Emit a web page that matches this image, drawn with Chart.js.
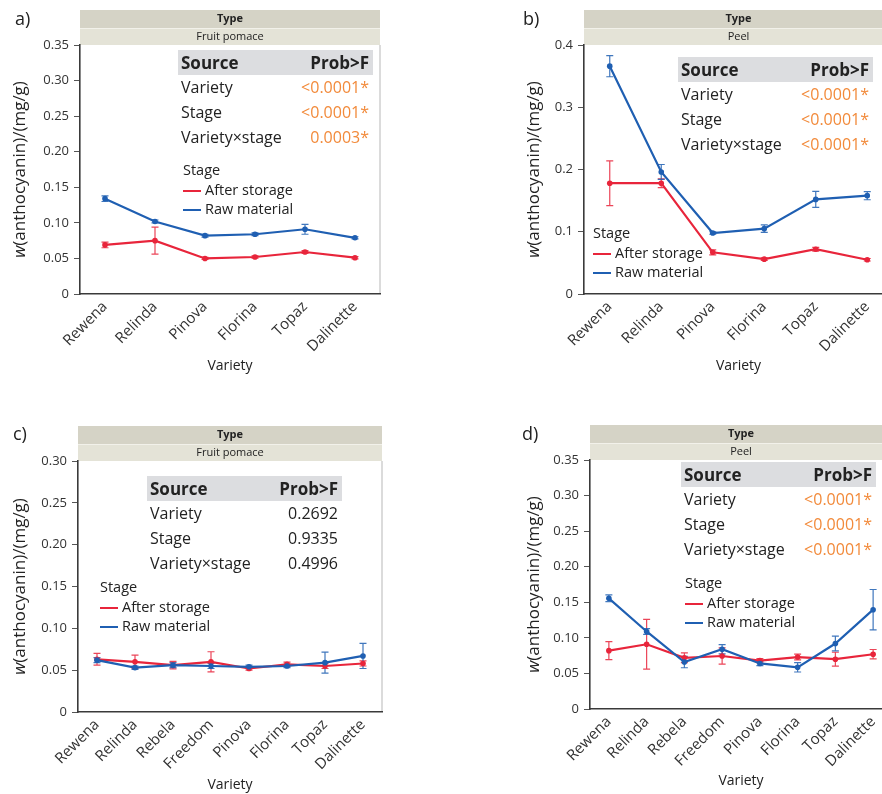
<!DOCTYPE html>
<html>
<head>
<meta charset="utf-8">
<script src="https://cdn.jsdelivr.net/npm/chart.js@4.4.1/dist/chart.umd.min.js"></script>
<style>
html, body { margin: 0; padding: 0; background: #fff; overflow: hidden; width: 882px; height: 794px; }
body { position: relative; font-family: 'Open Sans', sans-serif; color: #222; }
.panel { position: absolute; overflow: visible; }
.panel canvas { position: absolute; left: 0; top: 0; }
.lbl { position: absolute; font-size: 18px; line-height: 18px; color: #222; }
.tbl { position: absolute; font-size: 16px; color: #222; }
.tbl .hd { background: #dcdde0; font-weight: bold; font-size: 17px; height: 25px; line-height: 25px; display: flex; justify-content: space-between; padding: 0 4px 0 3px; }
.tbl .row { height: 25px; line-height: 25px; display: flex; justify-content: space-between; padding: 0 4px 0 3px; }
.sig { color: #f28a3a; }
.leg { position: absolute; font-size: 14.5px; color: #222; }
.leg .ttl { height: 20px; line-height: 20px; }
.leg .it { height: 19px; line-height: 19px; white-space: nowrap; }
.leg .it:first-of-type { margin-top: 6px; }
.leg .sw { display: inline-block; width: 18px; height: 2.5px; vertical-align: middle; margin-right: 4px; }
</style>
</head>
<body>
<script>
// categories
const varieties6 = ['Rewena', 'Relinda', 'Pinova', 'Florina', 'Topaz', 'Dalinette']
const varieties8 = ['Rewena', 'Relinda', 'Rebela', 'Freedom', 'Pinova', 'Florina', 'Topaz', 'Dalinette']

// a) fruit pomace
const aAfter    = [0.069, 0.075, 0.050, 0.052, 0.059, 0.051]
const aAfterErr = [0.004, 0.019, 0.0015, 0.0015, 0.002, 0.0015]
const aRaw      = [0.134, 0.102, 0.082, 0.084, 0.091, 0.079]
const aRawErr   = [0.004, 0.002, 0.002, 0.002, 0.007, 0.0015]

// b) peel
const bAfter    = [0.178, 0.178, 0.067, 0.056, 0.072, 0.055]
const bAfterErr = [0.036, 0.007, 0.004, 0.002, 0.003, 0.002]
const bRaw      = [0.366, 0.196, 0.098, 0.105, 0.152, 0.158]
const bRawErr   = [0.017, 0.012, 0.002, 0.006, 0.013, 0.0066]

// c) fruit pomace
const cAfter    = [0.063, 0.060, 0.056, 0.060, 0.052, 0.057, 0.055, 0.058]
const cAfterErr = [0.007, 0.008, 0.0045, 0.012, 0.002, 0.0025, 0.003, 0.003]
const cRaw      = [0.062, 0.053, 0.056, 0.055, 0.054, 0.055, 0.059, 0.067]
const cRawErr   = [0.003, 0.002, 0.003, 0.003, 0.002, 0.002, 0.0125, 0.015]

// d) peel
const dAfter    = [0.082, 0.091, 0.072, 0.0745, 0.068, 0.073, 0.070, 0.077]
const dAfterErr = [0.0127, 0.035, 0.0068, 0.0115, 0.003, 0.004, 0.0098, 0.0066]
const dRaw      = [0.1556, 0.109, 0.066, 0.084, 0.064, 0.0586, 0.092, 0.1396]
const dRawErr   = [0.0047, 0.004, 0.008, 0.0066, 0.003, 0.0066, 0.0103, 0.0284]

// anova tables
const sources = ['Variety', 'Stage', 'Variety×stage']
const aProbs = ['<0.0001*', '<0.0001*', '0.0003*']
const bProbs = ['<0.0001*', '<0.0001*', '<0.0001*']
const cProbs = ['0.2692', '0.9335', '0.4996']
const dProbs = ['<0.0001*', '<0.0001*', '<0.0001*']

const RED = '#e8253b'
const BLUE = '#1f5fb2'
const FONT = "'Open Sans', sans-serif"

const panels = [
    { name: 'a)', left: 0, top: 0, w: 441, h: 400, area: { l: 80, t: 45, r: 380, b: 294 }, titleY: 366, ytX: 20,
      cats: varieties6, after: aAfter, afterErr: aAfterErr, raw: aRaw, rawErr: aRawErr,
      yMax: 0.35, yStep: 0.05, dec: 2, type: 'Fruit pomace', probs: aProbs,
      tbl: { x: 178, y: 50, w: 195 }, leg: { x: 183, y: 170 }, lbl: { x: 15, y: 9 } },
    { name: 'b)', left: 441, top: 0, w: 470, h: 400, area: { l: 143, t: 45, r: 452, b: 294 }, titleY: 366, ytX: 93,
      cats: varieties6, after: bAfter, afterErr: bAfterErr, raw: bRaw, rawErr: bRawErr,
      yMax: 0.4, yStep: 0.1, dec: 1, type: 'Peel', probs: bProbs,
      tbl: { x: 237, y: 57, w: 195 }, leg: { x: 152, y: 233 }, lbl: { x: 82, y: 9 } },
    { name: 'c)', left: 0, top: 410, w: 441, h: 384, area: { l: 78, t: 51, r: 382, b: 302 }, titleY: 375, ytX: 20,
      cats: varieties8, after: cAfter, afterErr: cAfterErr, raw: cRaw, rawErr: cRawErr,
      yMax: 0.30, yStep: 0.05, dec: 2, type: 'Fruit pomace', probs: cProbs,
      tbl: { x: 147, y: 66, w: 195 }, leg: { x: 100, y: 177 }, lbl: { x: 13, y: 14 } },
    { name: 'd)', left: 441, top: 410, w: 470, h: 384, area: { l: 149, t: 50, r: 451, b: 299 }, titleY: 371, ytX: 93,
      cats: varieties8, after: dAfter, afterErr: dAfterErr, raw: dRaw, rawErr: dRawErr,
      yMax: 0.35, yStep: 0.05, dec: 2, type: 'Peel', probs: dProbs,
      tbl: { x: 240, y: 52, w: 195 }, leg: { x: 244, y: 173 }, lbl: { x: 81, y: 14 } }
]


// header bands, right frame, y title and error bars
const panelDecor = {
    id: 'panelDecor',
    beforeDraw(chart, args, o) {
        const { ctx, chartArea: a } = chart
        const cx = (a.left + a.right) / 2
        ctx.save()
        ctx.fillStyle = '#d5d3c6'
        ctx.fillRect(a.left, a.top - 35, a.right - a.left, 18)
        ctx.fillStyle = '#e4e3d7'
        ctx.fillRect(a.left, a.top - 17, a.right - a.left, 17)
        ctx.fillStyle = '#f2f1ea'
        ctx.fillRect(a.left, a.top - 17, a.right - a.left, 1)
        ctx.fillStyle = '#222'
        ctx.textAlign = 'center'
        ctx.textBaseline = 'middle'
        ctx.font = 'bold 11px ' + FONT
        ctx.fillText('Type', cx, a.top - 26)
        ctx.font = '11px ' + FONT
        ctx.fillText(o.type, cx, a.top - 8)

        ctx.strokeStyle = '#cfcfcf'
        ctx.lineWidth = 1.5
        ctx.beginPath()
        ctx.moveTo(a.right, a.top)
        ctx.lineTo(a.right, a.bottom)
        ctx.stroke()

        // y title with italic w
        const part1 = 'w', part2 = '(anthocyanin)/(mg/g)'
        ctx.translate(o.ytX, (a.top + a.bottom) / 2)
        ctx.rotate(-Math.PI / 2)
        ctx.font = 'italic 17px ' + FONT
        const w1 = ctx.measureText(part1).width
        ctx.font = '17px ' + FONT
        const w2 = ctx.measureText(part2).width
        const x0 = -(w1 + w2) / 2
        ctx.textAlign = 'left'
        ctx.font = 'italic 17px ' + FONT
        ctx.fillText(part1, x0, 0)
        ctx.font = '17px ' + FONT
        ctx.fillText(part2, x0 + w1, 0)
        ctx.restore()
    },
    beforeDatasetsDraw(chart) {
        const { ctx } = chart
        const y = chart.scales.y
        ctx.save()
        chart.data.datasets.forEach((ds, di) => {
            const meta = chart.getDatasetMeta(di)
            ctx.strokeStyle = ds.borderColor
            ctx.globalAlpha = 0.85
            ctx.lineWidth = 1.2
            ds.errors.forEach((e, i) => {
                const x = meta.data[i].x
                const y1 = y.getPixelForValue(ds.data[i] + e)
                const y2 = y.getPixelForValue(ds.data[i] - e)
                ctx.beginPath()
                ctx.moveTo(x, y1); ctx.lineTo(x, y2)
                ctx.moveTo(x - 3.5, y1); ctx.lineTo(x + 3.5, y1)
                ctx.moveTo(x - 3.5, y2); ctx.lineTo(x + 3.5, y2)
                ctx.stroke()
            })
        })
        ctx.restore()
    }
}


function makePanel(p){

    const div = document.createElement('div')
    div.className = 'panel'
    div.style.left = p.left + 'px'
    div.style.top = p.top + 'px'
    div.style.width = p.w + 'px'
    div.style.height = p.h + 'px'
    document.body.appendChild(div)

    const canvas = document.createElement('canvas')
    canvas.width = p.w
    canvas.height = p.h
    div.appendChild(canvas)

    const chart = new Chart(canvas, {
        type: 'line',
        data: {
            labels: p.cats,
            datasets: [
                { label: 'After storage', data: p.after, errors: p.afterErr, borderColor: RED, backgroundColor: RED, order: 1 },
                { label: 'Raw material', data: p.raw, errors: p.rawErr, borderColor: BLUE, backgroundColor: BLUE, order: 0 }
            ]
        },
        options: {
            responsive: false,
            animation: false,
            layout: { padding: { left: 0, top: p.area.t, right: p.w - p.area.r, bottom: 0 } },
            elements: {
                line: { borderWidth: 2.2, tension: 0 },
                point: { radius: 2.8, borderWidth: 0, hoverRadius: 2.8 }
            },
            plugins: {
                legend: { display: false },
                tooltip: { enabled: false },
                panelDecor: { type: p.type, ytX: p.ytX }
            },
            scales: {
                x: {
                    offset: true,
                    grid: { display: false, drawTicks: false },
                    border: { display: true, color: '#3a3a3a', width: 1.6 },
                    ticks: { color: '#333', font: { family: FONT, size: 15 }, maxRotation: 45, minRotation: 45, padding: 4, autoSkip: false },
                    title: { display: true, text: 'Variety', color: '#222', font: { family: FONT, size: 14 },
                             padding: { top: 0, bottom: p.h - p.titleY - 8.4 } },
                    afterFit: s => { s.height = p.h - p.area.b }
                },
                y: {
                    min: 0, max: p.yMax,
                    grid: { drawOnChartArea: false, tickLength: 6, color: '#555' },
                    border: { display: true, color: '#3a3a3a', width: 1.6 },
                    ticks: { stepSize: p.yStep, color: '#333', font: { family: FONT, size: 13 }, padding: 5,
                             callback: v => v === 0 ? '0' : v.toFixed(p.dec) },
                    afterFit: s => { s.width = p.area.l }
                }
            }
        },
        plugins: [panelDecor]
    })

    // panel letter
    const lbl = document.createElement('div')
    lbl.className = 'lbl'
    lbl.style.left = p.lbl.x + 'px'
    lbl.style.top = p.lbl.y + 'px'
    lbl.textContent = p.name
    div.appendChild(lbl)

    // anova table
    const tbl = document.createElement('div')
    tbl.className = 'tbl'
    tbl.style.left = p.tbl.x + 'px'
    tbl.style.top = p.tbl.y + 'px'
    tbl.style.width = p.tbl.w + 'px'
    let html = '<div class="hd"><span>Source</span><span>Prob&gt;F</span></div>'
    sources.forEach((s, i) => {
        const v = p.probs[i]
        const cls = v.endsWith('*') ? 'sig' : ''
        html += `<div class="row"><span>${s}</span><span class="${cls}">${v.replace('<', '&lt;')}</span></div>`
    })
    tbl.innerHTML = html
    div.appendChild(tbl)

    // legend from the chart's datasets
    const leg = document.createElement('div')
    leg.className = 'leg'
    leg.style.left = p.leg.x + 'px'
    leg.style.top = (p.leg.y - 10) + 'px'
    let lh = '<div class="ttl">Stage</div>'
    chart.data.datasets.forEach(ds => {
        lh += `<div class="it"><span class="sw" style="background:${ds.borderColor}"></span>${ds.label}</div>`
    })
    leg.innerHTML = lh
    div.appendChild(leg)
}

panels.forEach(makePanel)
</script>
</body>
</html>
